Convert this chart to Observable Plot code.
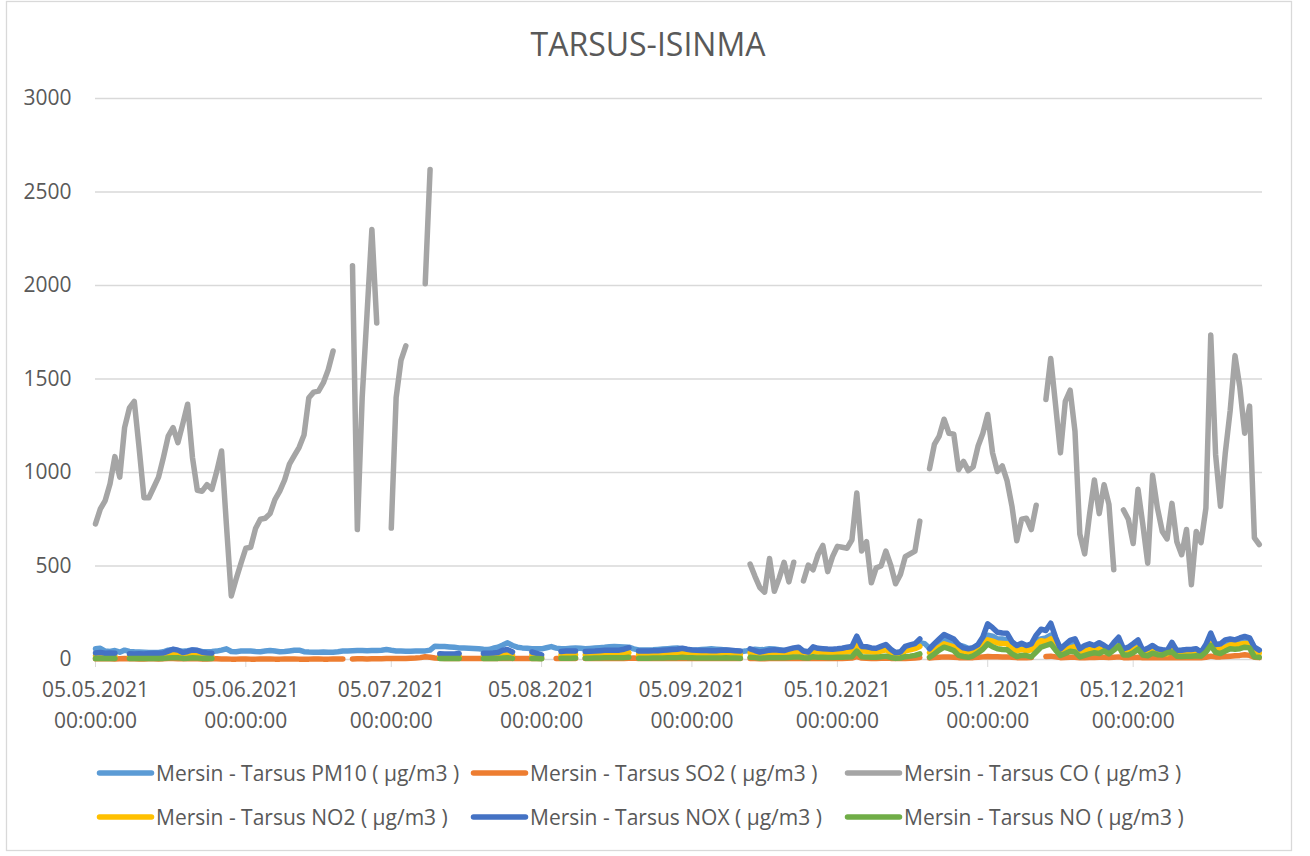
<!DOCTYPE html>
<html>
<head>
<meta charset="utf-8">
<script src="https://cdn.jsdelivr.net/npm/d3@7"></script>
<script src="https://cdn.jsdelivr.net/npm/@observablehq/plot@0.6"></script>
<style>
html, body { margin: 0; padding: 0; background: #ffffff; }
#chart { position: relative; width: 1310px; height: 856px; overflow: hidden; font-family: 'Open Sans', sans-serif; }
#chart > svg { position: absolute; left: 0; top: 0; }
</style>
</head>
<body>
<div id="chart"></div>
<script>
const _ = null;

// ---- data (daily values, 05.05.2021 .. 31.12.2021) ----
const startDate = "2021-05-05";
const titleText = "TARSUS-ISINMA";
const xTickDates = ["2021-05-05","2021-06-05","2021-07-05","2021-08-05","2021-09-05","2021-10-05","2021-11-05","2021-12-05"];
const xTickLabels = ["05.05.2021","05.06.2021","05.07.2021","05.08.2021","05.09.2021","05.10.2021","05.11.2021","05.12.2021"];
const xTickTime = "00:00:00";
const yTicks = [0, 500, 1000, 1500, 2000, 2500, 3000];
const seriesNames = [
  "Mersin - Tarsus PM10 ( µg/m3 )",
  "Mersin - Tarsus SO2 ( µg/m3 )",
  "Mersin - Tarsus CO ( µg/m3 )",
  "Mersin - Tarsus NO2 ( µg/m3 )",
  "Mersin - Tarsus NOX ( µg/m3 )",
  "Mersin - Tarsus NO ( µg/m3 )"
];
const seriesColors = ["#5B9BD5", "#ED7D31", "#A5A5A5", "#FFC000", "#4472C4", "#70AD47"];

const pm10 = [
  57,60,45,43,48,39,50,43,41,40,
  39,38,37,38,41,50,53,47,44,47,
  51,47,43,42,43,45,50,57,43,42,
  45,46,45,43,42,45,48,45,41,43,
  46,49,50,42,40,39,39,40,39,39,
  41,45,46,47,48,48,47,48,48,49,
  53,49,46,45,44,44,45,45,46,50,
  71,70,69,67,65,62,61,60,59,58,
  55,53,60,66,77,89,75,66,62,60,
  58,57,57,63,69,61,57,58,60,62,
  60,57,59,61,63,65,68,69,68,67,
  66,57,51,51,51,52,54,56,58,60,
  62,57,53,51,51,53,55,57,55,53,
  51,47,45,42,45,51,55,52,53,57,
  56,52,48,50,55,58,46,42,55,52,
  50,50,50,52,54,58,60,80,60,58,
  55,54,60,66,50,36,40,60,68,78,
  90,85,60,80,95,105,100,95,78,70,
  60,58,70,95,130,125,110,110,105,75,
  65,75,68,72,100,110,115,130,90,55,
  70,85,90,55,65,72,66,75,68,55,
  75,90,55,60,78,90,48,55,65,55,
  50,48,75,48,50,52,52,55,40,70,
  110,72,75,95,100,100,108,112,108,62,
  48
];

const so2 = [
  4,5,4,4,3,4,5,4,4,3,
  3,4,4,3,4,5,5,4,4,4,
  5,4,3,3,4,4,3,3,2,2,
  3,3,2,2,3,3,3,2,2,3,
  3,3,2,2,2,3,3,2,2,3,
  3,3,_,3,4,4,3,4,4,4,
  5,5,5,6,6,7,8,10,15,12,
  8,7,6,6,5,5,5,5,5,5,
  5,5,5,5,6,6,5,5,5,5,
  5,5,6,_,_,6,5,5,5,5,
  _,5,5,5,5,5,5,5,6,6,
  7,8,5,5,5,5,5,5,5,5,
  6,6,5,5,5,5,5,5,5,5,
  5,5,5,5,_,5,5,4,4,5,
  5,5,5,6,6,6,5,5,6,6,
  6,6,6,6,6,7,8,15,8,7,
  6,6,7,8,6,5,5,6,7,8,
  10,_,8,10,12,14,13,12,10,9,
  9,10,12,14,16,15,15,14,14,12,
  10,10,10,11,_,_,16,18,14,10,
  11,12,12,9,10,11,11,12,12,10,
  12,14,10,10,11,12,9,9,10,10,
  9,9,11,9,9,10,10,10,9,12,
  18,14,14,16,18,20,22,25,22,12,
  10
];

const co = [
  725,805,850,940,1085,975,1240,1345,1380,1130,
  865,865,920,975,1080,1195,1240,1160,1260,1365,
  1080,905,900,935,910,1005,1115,720,340,430,
  515,595,600,700,750,755,780,855,900,960,
  1045,1090,1135,1200,1400,1430,1435,1480,1550,1650,
  _,_,_,2105,695,1400,1850,2300,1800,_,
  _,703,1400,1600,1677,_,_,_,2010,2620,
  _,_,_,_,_,_,_,_,_,_,
  _,_,_,_,_,_,_,_,_,_,
  _,_,_,_,_,_,_,_,_,_,
  _,_,_,_,_,_,_,_,_,_,
  _,_,_,_,_,_,_,_,_,_,
  _,_,_,_,_,_,_,_,_,_,
  _,_,_,_,_,510,445,385,360,540,
  365,435,520,415,520,_,420,505,480,560,
  610,470,550,605,600,595,640,890,580,630,
  410,490,500,580,505,405,455,550,565,580,
  740,_,1020,1150,1195,1285,1210,1205,1015,1060,
  1010,1030,1140,1210,1310,1105,1005,1035,955,820,
  635,750,755,695,825,_,1390,1610,1360,1105,
  1380,1440,1220,670,565,775,960,780,935,830,
  480,_,800,750,620,910,720,515,985,810,
  685,645,835,630,560,695,400,685,625,810,
  1735,1095,820,1105,1330,1625,1455,1210,1355,650,
  615
];

const no2 = [
  20,22,19,20,19,_,_,18,17,18,
  17,18,19,19,21,28,30,28,22,26,
  30,29,23,21,19,_,_,_,_,_,
  _,_,_,_,_,_,_,_,_,_,
  _,_,_,_,_,_,_,_,_,_,
  _,_,_,_,_,_,_,_,_,_,
  _,_,_,_,_,_,_,_,_,_,
  _,17,16,16,17,18,_,_,_,_,
  19,20,21,23,30,32,24,_,_,_,
  24,19,14,_,_,_,24,25,25,26,
  _,24,25,26,27,28,29,28,29,32,
  36,_,26,26,27,28,28,29,30,31,
  32,36,33,30,29,28,28,28,28,29,
  30,29,28,26,_,36,32,28,30,33,
  34,33,32,36,40,42,30,28,44,40,
  38,37,36,37,39,42,45,82,46,44,
  40,39,45,52,36,25,28,46,52,58,
  70,_,36,52,66,84,76,68,50,40,
  37,40,50,75,105,98,88,86,84,58,
  46,54,46,52,80,100,95,110,72,37,
  50,62,68,36,46,52,46,56,46,36,
  55,72,36,41,52,64,30,38,46,36,
  33,30,56,30,32,34,34,36,26,50,
  85,52,54,66,78,80,82,86,84,44,
  34
];

const nox = [
  35,37,33,35,34,_,_,31,30,31,
  30,32,33,33,35,45,55,50,37,43,
  51,49,39,35,33,_,_,_,_,_,
  _,_,_,_,_,_,_,_,_,_,
  _,_,_,_,_,_,_,_,_,_,
  _,_,_,_,_,_,_,_,_,_,
  _,_,_,_,_,_,_,_,_,_,
  _,31,30,29,30,32,_,_,_,_,
  33,34,35,38,50,53,40,_,_,_,
  40,33,25,_,_,_,43,45,45,46,
  _,43,44,45,47,49,50,49,50,55,
  63,_,45,45,46,47,47,49,51,53,
  55,60,55,51,49,48,48,47,47,49,
  51,49,47,45,_,57,48,40,45,50,
  52,50,48,55,62,66,45,40,68,60,
  58,56,55,57,60,66,70,125,70,68,
  62,60,70,80,55,36,40,70,78,85,
  110,_,57,85,110,134,122,110,80,62,
  57,64,80,120,191,170,146,142,140,95,
  75,87,75,84,130,162,155,194,119,57,
  80,102,111,57,75,84,75,90,75,57,
  90,119,57,66,85,105,48,60,75,57,
  52,48,92,48,50,53,54,57,39,80,
  141,80,84,105,110,105,115,123,116,66,
  50
];

const no = [
  5,6,5,5,5,_,_,5,5,5,
  5,5,6,6,6,8,10,9,6,7,
  9,8,6,5,5,_,_,_,_,_,
  _,_,_,_,_,_,_,_,_,_,
  _,_,_,_,_,_,_,_,_,_,
  _,_,_,_,_,_,_,_,_,_,
  _,_,_,_,_,_,_,_,_,_,
  _,5,5,5,5,5,_,_,_,_,
  5,5,6,6,8,9,6,_,_,_,
  6,5,4,_,_,_,7,7,7,8,
  _,7,7,8,8,9,9,9,9,10,
  12,_,7,7,7,8,8,8,9,9,
  10,12,10,9,8,8,8,8,8,8,
  9,8,8,7,_,12,10,7,8,10,
  10,10,9,11,13,14,9,8,15,12,
  12,11,11,12,12,14,15,45,15,14,
  12,12,15,18,11,6,8,15,18,22,
  30,_,12,30,50,66,58,48,22,16,
  12,20,36,55,84,68,57,54,52,30,
  16,22,21,14,40,66,75,84,50,21,
  32,44,40,14,22,30,36,32,46,30,
  50,72,24,24,36,55,24,20,34,26,
  24,36,40,18,16,18,18,20,18,40,
  75,38,32,45,57,55,58,66,62,14,
  12
];

// ---- build ----
const seriesValues = [pm10, so2, co, no2, nox, no];
seriesValues.forEach((arr, k) => {
  if (arr.length !== 241) throw new Error(seriesNames[k] + " has " + arr.length + " values");
});

const DAY = 864e5;
const t0 = new Date(startDate + "T00:00:00Z");
const t1 = new Date(+t0 + 240.67 * DAY);
const dates = co.map((v, i) => new Date(+t0 + i * DAY));
const tickDates = xTickDates.map(s => new Date(s + "T00:00:00Z"));
const tickMs = tickDates.map(d => +d);

const lineMarks = seriesValues.map((vals, k) =>
  Plot.line(dates.map((d, i) => ({date: d, value: vals[i]})), {
    x: "date", y: "value",
    stroke: seriesColors[k], strokeWidth: 5.5,
    strokeLinejoin: "round", strokeLinecap: "round"
  })
);

const chart = Plot.plot({
  width: 1310,
  height: 740,
  marginLeft: 95,
  marginRight: 48,
  marginTop: 98,
  marginBottom: 81,
  style: {fontFamily: "'Open Sans', sans-serif", fontSize: "21px", color: "#595959", background: "transparent", overflow: "visible"},
  x: {type: "utc", domain: [t0, t1]},
  y: {domain: [0, 3000]},
  marks: [
    Plot.ruleY(yTicks, {stroke: "#d9d9d9", strokeWidth: 1.3}),
    Plot.axisY({ticks: yTicks, tickSize: 0, tickPadding: 24, fontSize: 21, fill: "#595959", label: null,
      tickFormat: d => String(d)}),
    Plot.axisX({ticks: tickDates, tickSize: 8, tickPadding: 15, stroke: "#d9d9d9", fill: "#595959", fontSize: 21, label: null,
      tickFormat: d => xTickLabels[tickMs.indexOf(+d)]}),
    Plot.axisX({ticks: tickDates, tickSize: 0, tickPadding: 54, fill: "#595959", fontSize: 21, label: null,
      tickFormat: () => xTickTime}),
    ...lineMarks
  ]
});
document.getElementById("chart").appendChild(chart);

// ---- title, legend, frame ----
const ov = d3.select("#chart").append("svg")
  .attr("width", 1310).attr("height", 856)
  .style("position", "absolute").style("left", "0px").style("top", "0px")
  .style("pointer-events", "none")
  .style("font-family", "'Open Sans', sans-serif");

ov.append("rect")
  .attr("x", 6.5).attr("y", 1.5).attr("width", 1285).attr("height", 849)
  .attr("fill", "none").attr("stroke", "#d9d9d9").attr("stroke-width", 1.3);

ov.append("text")
  .attr("x", 648).attr("y", 56).attr("text-anchor", "middle")
  .attr("font-size", 32).attr("fill", "#595959")
  .text(titleText);

const legCols = [97, 471, 845];
const legRows = [773, 817];
seriesNames.forEach((name, k) => {
  const cx = legCols[k % 3], cy = legRows[Math.floor(k / 3)];
  const g = ov.append("g");
  g.append("line")
    .attr("x1", cx + 2.5).attr("x2", cx + 54.5).attr("y1", cy).attr("y2", cy)
    .attr("stroke", seriesColors[k]).attr("stroke-width", 5.5).attr("stroke-linecap", "round");
  g.append("text")
    .attr("x", cx + 59).attr("y", cy + 7.5)
    .attr("font-size", 21).attr("fill", "#595959")
    .text(name);
});
</script>
</body>
</html>
